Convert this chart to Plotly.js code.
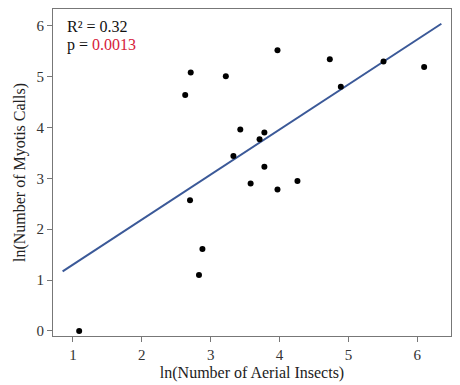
<!DOCTYPE html>
<html>
<head>
<meta charset="utf-8">
<script src="https://cdn.plot.ly/plotly-3.0.1.min.js"></script>
<style>html,body{margin:0;padding:0;background:#fff;}#chart{width:460px;height:385px;}</style>
</head>
<body>
<div id="chart"></div>
<script>
// ln(Number of Aerial Insects)
var insectsLn = [1.09, 2.71, 2.63, 3.22, 2.70, 2.88, 2.83, 3.97, 4.73, 5.51, 6.10, 4.89, 3.43, 3.78, 3.71, 3.33, 3.78, 3.58, 3.97, 4.26];
// ln(Number of Myotis Calls)
var callsLn = [0.00, 5.08, 4.64, 5.01, 2.57, 1.61, 1.10, 5.52, 5.34, 5.30, 5.19, 4.80, 3.96, 3.90, 3.77, 3.44, 3.23, 2.90, 2.78, 2.95];
// fitted regression line endpoints
var fitX = [0.85, 6.35];
var fitY = [1.17, 6.04];
var xTicks = [1, 2, 3, 4, 5, 6];
var yTicks = [0, 1, 2, 3, 4, 5, 6];
var r2Text = "R² = 0.32";
var pLabel = "p = ";
var pValue = "0.0013";

var serif = "Liberation Serif";

var traces = [
  {x: fitX, y: fitY, mode: "lines", type: "scatter",
   line: {color: "#3b5998", width: 2}, hoverinfo: "skip", showlegend: false},
  {x: insectsLn, y: callsLn, mode: "markers", type: "scatter",
   marker: {color: "#000", size: 6}, showlegend: false}
];

var axisCommon = {
  showgrid: false, zeroline: false, showline: true, mirror: true,
  linecolor: "#777", linewidth: 1, ticks: "outside", ticklen: 5,
  tickcolor: "#777", tickfont: {family: serif, size: 15, color: "#333"}
};

var layout = {
  width: 460, height: 385,
  margin: {l: 53, r: 9, t: 9, b: 49},
  paper_bgcolor: "#fff", plot_bgcolor: "#fff",
  font: {family: serif, color: "#222"},
  xaxis: Object.assign({}, axisCommon, {
    range: [0.71, 6.49], tickvals: xTicks,
    title: {text: "ln(Number of Aerial Insects)", font: {family: serif, size: 16, color: "#222"}, standoff: 4}
  }),
  yaxis: Object.assign({}, axisCommon, {
    range: [-0.1, 6.33], tickvals: yTicks,
    title: {text: "ln(Number of Myotis Calls)", font: {family: serif, size: 16, color: "#222"}, standoff: 6}
  }),
  annotations: [
    {xref: "paper", yref: "paper", x: 0.03, y: 0.948, xanchor: "left", yanchor: "middle",
     text: r2Text, showarrow: false, font: {family: serif, size: 16, color: "#111"}},
    {xref: "paper", yref: "paper", x: 0.03, y: 0.89, xanchor: "left", yanchor: "middle",
     text: pLabel + "<span style='color:#d6213a'>" + pValue + "</span>", showarrow: false,
     font: {family: serif, size: 16, color: "#111"}}
  ]
};

Plotly.newPlot("chart", traces, layout, {displayModeBar: false, staticPlot: true});
</script>
</body>
</html>
